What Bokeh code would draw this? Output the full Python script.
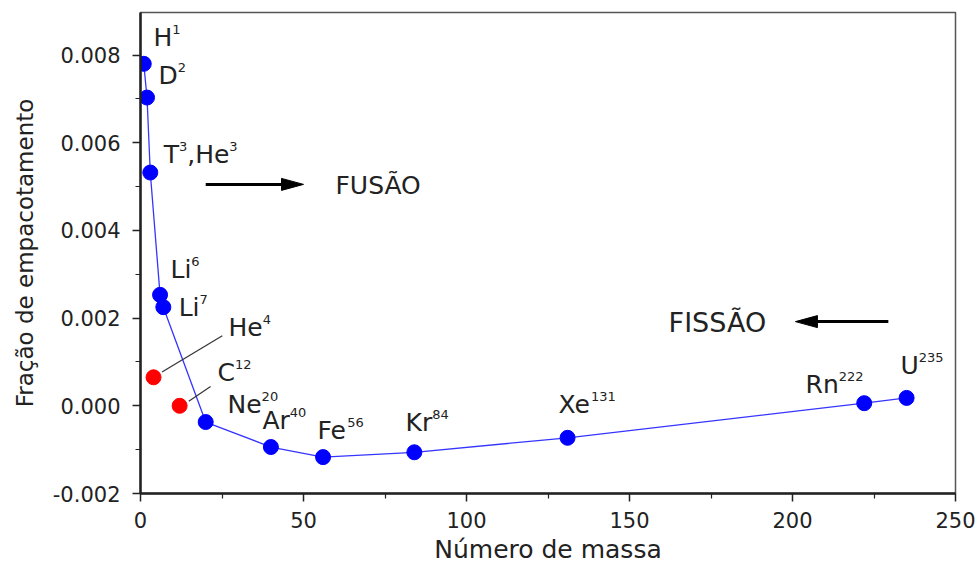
from bokeh.plotting import figure
from bokeh.models import (ColumnDataSource, FixedTicker, PrintfTickFormatter, Range1d)
from bokeh.embed import file_html
from bokeh.resources import INLINE
from bokeh.core.properties import value

# ---- data ----
line_names = ["H1", "D2", "T3", "Li6", "Li7", "Ne20", "Ar40", "Fe56", "Kr84", "Xe131", "Rn222", "U235"]
line_mass = [1, 2, 3, 6, 7, 20, 40, 56, 84, 131, 222, 235]
line_frac = [0.00780, 0.00703, 0.00532, 0.00253, 0.00225, -0.00037, -0.00094, -0.00117,
             -0.00106, -0.00073, 0.00006, 0.00018]

red_names = ["He4", "C12"]
red_mass = [4, 12]
red_frac = [0.00065, 0.0]

# label markup: "^" starts a superscript which ends at the next non-digit
label_texts = ["H^1", "D^2", "T^3,He^3", "Li^6", "Li^7", "He^4", "C^12", "Ne^20", "Ar^40",
               "Fe^56", "Kr^84", "Xe^131", "Rn^222", "U^235"]
label_x = [4.0, 5.5, 7.1, 9.2, 11.7, 27.0, 23.6, 26.7, 37.4, 54.3, 81.3, 128.2, 204.0, 233.1]
label_y = [0.00822, 0.00735, 0.00555, 0.00293, 0.00206, 0.00160, 0.00058, -0.00015,
           -0.00052, -0.00075, -0.00056, -0.00015, 0.00030, 0.00074]

leader_x0 = [6.6, 14.8]
leader_y0 = [0.00077, 0.000105]
leader_x1 = [25.1, 21.5]
leader_y1 = [0.00160, 0.00044]

arrow_text = ["FUSÃO", "FISSÃO"]
arrow_text_x = [59.8, 162.0]
arrow_text_y = [0.00484, 0.00172]
arrow_x_start = [20.0, 229.4]
arrow_x_end = [50.0, 200.9]
arrow_y = [0.00505, 0.00192]

x_ticks = [0, 50, 100, 150, 200, 250]
x_minor = [25, 75, 125, 175, 225]
y_ticks = [-0.002, 0.000, 0.002, 0.004, 0.006, 0.008]
y_minor = [-0.001, 0.001, 0.003, 0.005, 0.007]

FONT = "DejaVu Sans"
BASE_PX = 25
SUP_PX = 13
TEXT_DY = -8      # renderer baseline correction (px)
SUP_RAISE = 8
SUP_KERN = 0

# DejaVu Sans advance widths (em)
ADV = {"H": 0.752, "D": 0.770, "T": 0.611, "L": 0.557, "i": 0.278, "e": 0.615, "C": 0.698,
       "N": 0.748, "A": 0.684, "r": 0.411, "F": 0.575, "K": 0.656, "X": 0.685, "R": 0.695,
       "n": 0.634, "U": 0.732, ",": 0.318}
DIGIT = 0.636

W, H = 977, 567
LEFT, RIGHT, TOP, BOTTOM = 140, 22, 12, 74
X0, X1 = 0, 250
Y0, Y1 = -0.002, 0.00897

p = figure(width=W, height=H, output_backend="svg", toolbar_location=None,
           x_range=Range1d(X0, X1), y_range=Range1d(Y0, Y1),
           min_border_left=LEFT, min_border_right=RIGHT, min_border_top=TOP,
           min_border_bottom=BOTTOM)
p.background_fill_color = "white"
p.border_fill_color = "white"
p.grid.visible = False
p.outline_line_color = "#555555"
p.outline_line_width = 1.5

for ax in (p.xaxis[0], p.yaxis[0]):
    ax.axis_line_color = "#222222"
    ax.axis_line_width = 2.5
    ax.major_tick_line_color = "#222222"
    ax.minor_tick_line_color = "#222222"
    ax.major_tick_line_width = 1.5
    ax.minor_tick_line_width = 1.2
    ax.major_tick_in = 0
    ax.major_tick_out = 8
    ax.minor_tick_in = 0
    ax.minor_tick_out = 5
    ax.major_label_text_font = FONT
    ax.major_label_text_font_size = "21px"
    ax.major_label_text_color = "#222222"
    ax.axis_label_text_font = FONT
    ax.axis_label_text_font_style = "normal"
    ax.axis_label_text_color = "#222222"

p.xaxis.ticker = FixedTicker(ticks=x_ticks, minor_ticks=x_minor)
p.yaxis.ticker = FixedTicker(ticks=y_ticks, minor_ticks=y_minor)
p.yaxis.formatter = PrintfTickFormatter(format="%.3f")
p.xaxis.axis_label = "Número de massa"
p.yaxis.axis_label = "Fração de empacotamento"
p.xaxis.axis_label_text_font_size = "25px"
p.yaxis.axis_label_text_font_size = "23px"
p.xaxis.major_label_standoff = 10
p.yaxis.major_label_standoff = 12
p.xaxis.axis_label_standoff = 4
p.yaxis.axis_label_standoff = 12

src_line = ColumnDataSource(dict(x=line_mass, y=line_frac, name=line_names))
src_red = ColumnDataSource(dict(x=red_mass, y=red_frac, name=red_names))

p.line("x", "y", source=src_line, line_color="#3535ff", line_width=1.3)
p.segment(x0=leader_x0, y0=leader_y0, x1=leader_x1, y1=leader_y1,
          line_color="#333333", line_width=1.2)
p.scatter("x", "y", source=src_line, size=15, fill_color="#0000ff", line_color="#0000ff")
p.scatter("x", "y", source=src_red, size=15, fill_color="#ff0000", line_color="#ff0000")

# split labels into base / superscript pieces with pixel offsets
base = dict(x=[], y=[], t=[], dx=[])
sup = dict(x=[], y=[], t=[], dx=[])
for txt, lx, ly in zip(label_texts, label_x, label_y):
    off = 0.0
    i = 0
    while i < len(txt):
        if txt[i] == "^":
            j = i + 1
            while j < len(txt) and txt[j].isdigit():
                j += 1
            s = txt[i + 1:j]
            off += SUP_KERN
            sup["x"].append(lx); sup["y"].append(ly); sup["t"].append(s); sup["dx"].append(off)
            off += len(s) * DIGIT * SUP_PX
            i = j
        else:
            j = i
            while j < len(txt) and txt[j] != "^":
                j += 1
            s = txt[i:j]
            base["x"].append(lx); base["y"].append(ly); base["t"].append(s); base["dx"].append(off)
            off += sum(ADV.get(c, 0.6) for c in s) * BASE_PX
            i = j

p.text("x", "y", text="t", x_offset="dx", y_offset=TEXT_DY, source=ColumnDataSource(base),
       text_font=value(FONT), text_font_size=f"{BASE_PX}px", text_color="#222222",
       text_align="left", text_baseline="alphabetic")
p.text("x", "y", text="t", x_offset="dx", y_offset=TEXT_DY - SUP_RAISE,
       source=ColumnDataSource(sup), text_font=value(FONT), text_font_size=f"{SUP_PX}px",
       text_color="#222222", text_align="left", text_baseline="alphabetic")

src_arr = ColumnDataSource(dict(x=arrow_text_x, y=arrow_text_y, t=arrow_text, fs=["25px", "27px"]))
p.text("x", "y", text="t", y_offset=TEXT_DY, source=src_arr, text_font=value(FONT),
       text_font_size="fs", text_color="#222222", text_align="left", text_baseline="alphabetic")

# arrows: shaft + long narrow head (head size in px converted to data units)
HEAD_LEN_PX, HEAD_HALF_PX = 22, 6
px_per_x = (W - LEFT - RIGHT) / (X1 - X0)
px_per_y = (H - TOP - BOTTOM) / (Y1 - Y0)
hx, hy = [], []
shaft_end = []
for xs, xe, ya in zip(arrow_x_start, arrow_x_end, arrow_y):
    sgn = 1 if xe > xs else -1
    hl = HEAD_LEN_PX / px_per_x * sgn
    hw = HEAD_HALF_PX / px_per_y
    hx.append([xe, xe - hl, xe - hl])
    hy.append([ya, ya + hw, ya - hw])
    shaft_end.append(xe - hl * 0.8)
p.segment(x0=arrow_x_start, y0=arrow_y, x1=shaft_end, y1=arrow_y, line_color="black",
          line_width=3)
p.patches(hx, hy, fill_color="black", line_color="black", line_width=1)

open("out.html", "w").write(file_html(p, INLINE))
